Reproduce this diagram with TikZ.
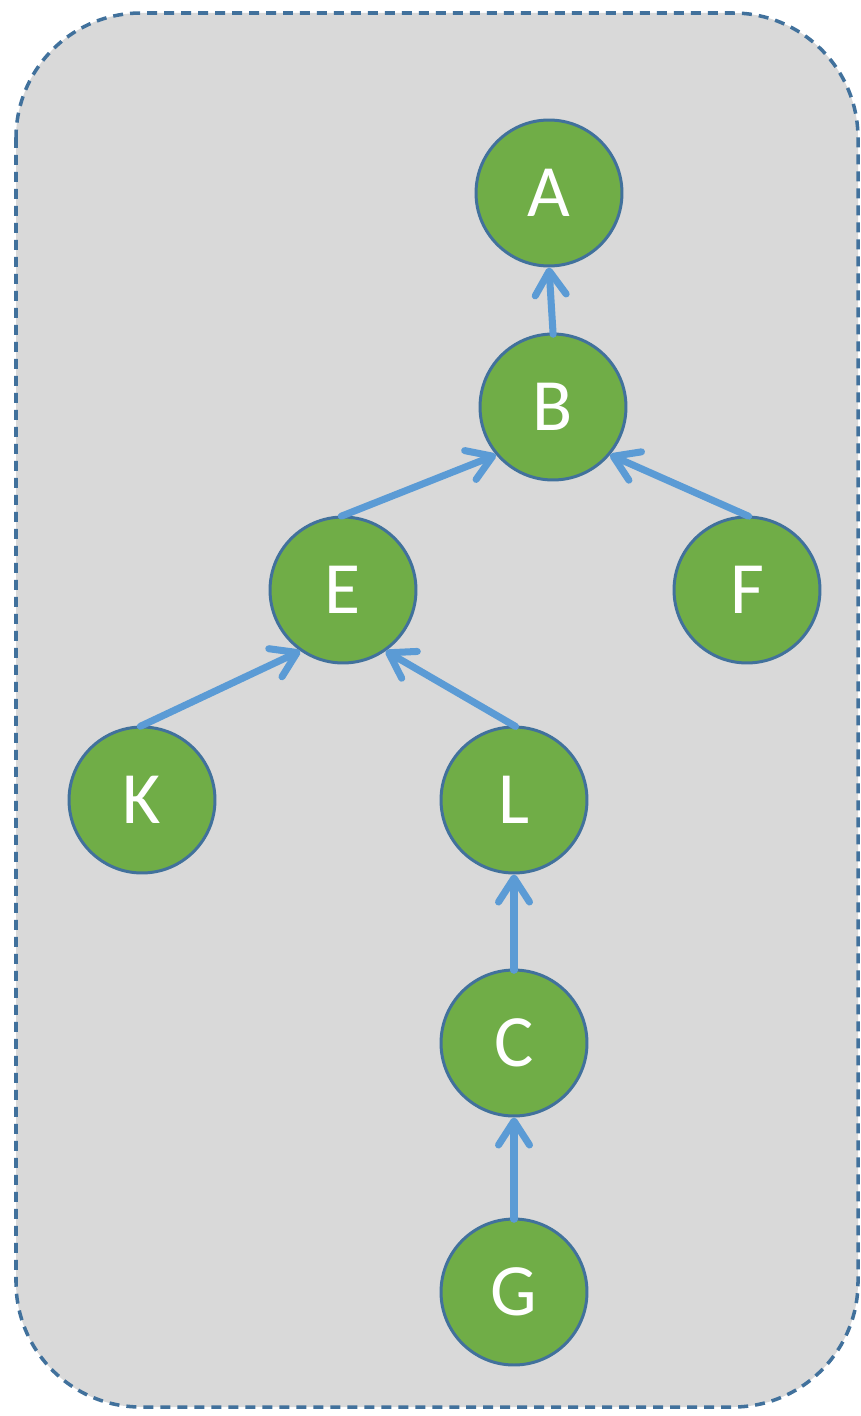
\documentclass[tikz,border=0pt]{standalone}
\usepackage{fontspec}
\setmainfont{Carlito}
\usetikzlibrary{arrows.meta}
\definecolor{boxfill}{HTML}{D9D9D9}
\definecolor{boxline}{HTML}{41719C}
\definecolor{nodefill}{HTML}{70AD47}
\definecolor{nodeline}{HTML}{41719C}
\definecolor{arrowcol}{HTML}{5B9BD5}
\tikzset{
  treenode/.style={circle, fill=nodefill, draw=nodeline, line width=1.7pt, minimum size=2.92cm, inner sep=0pt, text=white, font=\fontsize{42}{42}\selectfont},
  link/.style={draw=arrowcol, line width=4pt, line cap=round, -{Straight Barb[length=0.48cm, width=0.62cm, line cap=round, round]}, shorten <=-1pt},
}
\begin{document}
\begin{tikzpicture}[x=0.02cm, y=-0.02cm]
\useasboundingbox (0,0) rectangle (860,1416);
\draw[fill=boxfill, draw=boxline, line width=2pt, dash pattern=on 0.2cm off 0.14cm, rounded corners=2.5cm] (16,13) rectangle (858,1407);
\node[treenode] (A) at (549,193) {A};
\node[treenode] (B) at (553,407) {B};
\node[treenode] (E) at (343,590) {E};
\node[treenode] (F) at (747,590) {F};
\node[treenode] (K) at (142,800) {K};
\node[treenode] (L) at (514,800) {L};
\node[treenode] (C) at (514,1043) {C};
\node[treenode] (G) at (514,1292) {G};
\draw[link] (B.north) -- (A.south);
\draw[link] (E.north) -- (B.220);
\draw[link] (F.north) -- (B.320);
\draw[link] (K.north) -- (E.235);
\draw[link] (L.north) -- (E.305);
\draw[link] (C.north) -- (L.south);
\draw[link] (G.north) -- (C.south);
\end{tikzpicture}
\end{document}
